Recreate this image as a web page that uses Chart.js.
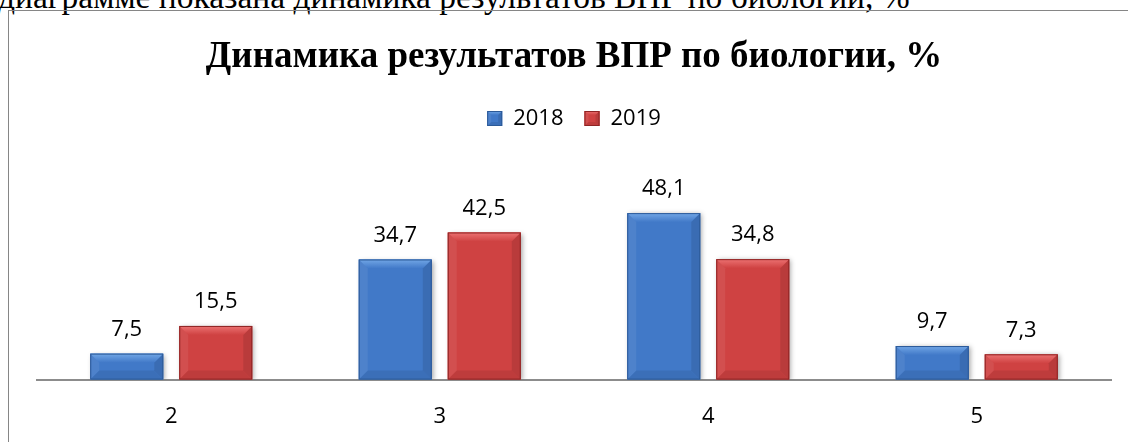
<!DOCTYPE html>
<html lang="ru">
<head>
<meta charset="utf-8">
<title>Динамика результатов ВПР по биологии</title>
<script src="https://cdn.jsdelivr.net/npm/chart.js@4"></script>
<style>
  html, body {
    margin: 0;
    padding: 0;
    background: #fff;
    overflow: hidden;
    width: 1128px;
    height: 442px;
  }
  .caption {
    position: absolute;
    left: -2px;
    top: -20px;
    font-family: "Liberation Serif", "Times New Roman", serif;
    font-size: 33.5px;
    line-height: 33px;
    white-space: nowrap;
    color: #000;
  }
  .frame {
    position: absolute;
    left: 8px;
    top: 10px;
    width: 1140px;
    height: 450px;
    border: 1px solid #868686;
  }
  #chart {
    position: absolute;
    left: 9px;
    top: 11px;
  }
</style>
</head>
<body>
<div class="caption">диаграмме показана динамика результатов ВПР по биологии, %</div>
<div class="frame"></div>
<canvas id="chart" width="1119" height="455"></canvas>

<script>
// Данные диаграммы
const categories = ["2", "3", "4", "5"];
const seriesNames = ["2018", "2019"];
const values2018 = [7.5, 34.7, 48.1, 9.7];
const values2019 = [15.5, 42.5, 34.8, 7.3];
const yMax = 69.4;

// Цвета: основа, светлая фаска, тёмная кромка
const palette = {
  blue: { body: "#4179c8", light: "#72a7e6", dark: "#2c5a98" },
  red: { body: "#cf4242", light: "#ec7272", dark: "#8e2424" },
};

function formatValue(v) {
  return String(v).replace(".", ",");
}

/**
 * Рисует прямоугольник с фаской
 */
function drawBevelRect(ctx, left, top, width, height, col, b) {
  const right = left + width;
  const bottom = top + height;

  ctx.save();
  ctx.fillStyle = col.body;
  ctx.fillRect(left, top, width, height);

  // верхняя фаска
  const g = ctx.createLinearGradient(0, top, 0, top + b);
  g.addColorStop(0, col.light);
  g.addColorStop(1, col.body);
  ctx.fillStyle = g;
  ctx.beginPath();
  ctx.moveTo(left, top);
  ctx.lineTo(right, top);
  ctx.lineTo(right - b, top + b);
  ctx.lineTo(left + b, top + b);
  ctx.closePath();
  ctx.fill();

  // левая фаска
  ctx.fillStyle = "rgba(255, 255, 255, 0.07)";
  ctx.beginPath();
  ctx.moveTo(left, top);
  ctx.lineTo(left + b, top + b);
  ctx.lineTo(left + b, bottom - b);
  ctx.lineTo(left, bottom);
  ctx.closePath();
  ctx.fill();

  // правая фаска
  ctx.fillStyle = "rgba(0, 0, 0, 0.1)";
  ctx.beginPath();
  ctx.moveTo(right, top);
  ctx.lineTo(right - b, top + b);
  ctx.lineTo(right - b, bottom - b);
  ctx.lineTo(right, bottom);
  ctx.closePath();
  ctx.fill();

  // нижняя фаска
  ctx.fillStyle = "rgba(0, 0, 0, 0.08)";
  ctx.beginPath();
  ctx.moveTo(left, bottom);
  ctx.lineTo(left + b, bottom - b);
  ctx.lineTo(right - b, bottom - b);
  ctx.lineTo(right, bottom);
  ctx.closePath();
  ctx.fill();

  // кромка
  ctx.strokeStyle = col.dark;
  ctx.lineWidth = 1;
  ctx.strokeRect(left + 0.5, top + 0.5, width - 1, height - 1);
  ctx.restore();
}

/**
 * Тень под столбцами
 */
const shadowPlugin = {
  id: "barShadow",
  beforeDatasetsDraw(chart) {
    const ctx = chart.ctx;
    ctx.save();
    ctx.shadowColor = "rgba(0, 0, 0, 0.35)";
    ctx.shadowBlur = 5;
    ctx.shadowOffsetX = 2;
    ctx.shadowOffsetY = 1;
  },
  afterDatasetsDraw(chart) {
    chart.ctx.restore();
  },
};

/**
 * Фаска на столбцах, подписи значений и значки легенды
 */
const bevelPlugin = {
  id: "bevel",
  afterDatasetsDraw(chart) {
    const ctx = chart.ctx;
    chart.data.datasets.forEach((ds, di) => {
      const meta = chart.getDatasetMeta(di);
      meta.data.forEach((bar, i) => {
        const left = bar.x - bar.width / 2;
        const h = bar.base - bar.y;
        const b = Math.min(9, h / 2, bar.width / 4);
        drawBevelRect(ctx, left, bar.y, bar.width, h, ds.bevel, b);

        // подпись значения
        ctx.save();
        ctx.fillStyle = "#000";
        ctx.font = '22px "Open Sans"';
        ctx.textAlign = "center";
        ctx.textBaseline = "middle";
        ctx.fillText(formatValue(ds.data[i]), bar.x, bar.y - 24);
        ctx.restore();
      });
    });
  },
  afterDraw(chart) {
    const legend = chart.legend;
    if (!legend || !legend.legendHitBoxes) return;
    legend.legendHitBoxes.forEach((box, i) => {
      const col = chart.data.datasets[i].bevel;
      const cy = box.top + box.height / 2;
      drawBevelRect(chart.ctx, box.left, Math.round(cy - 7.5), 15, 15, col, 4);
    });
  },
};

document.addEventListener("DOMContentLoaded", function () {
  const canvas = document.getElementById("chart");

  new Chart(canvas, {
    type: "bar",
    data: {
      labels: categories,
      datasets: [
        {
          label: seriesNames[0],
          data: values2018,
          backgroundColor: palette.blue.body,
          borderWidth: 0,
          bevel: palette.blue,
        },
        {
          label: seriesNames[1],
          data: values2019,
          backgroundColor: palette.red.body,
          borderWidth: 0,
          bevel: palette.red,
        },
      ],
    },
    options: {
      responsive: false,
      animation: false,
      events: [],
      layout: {
        padding: { left: 28, right: 17, top: 0, bottom: 12 },
      },
      categoryPercentage: 0.663,
      barPercentage: 0.82,
      plugins: {
        title: {
          display: true,
          text: "Динамика результатов ВПР по биологии, %",
          color: "#000",
          font: {
            family: '"Liberation Serif", "Times New Roman", serif',
            size: 37,
            weight: "bold",
            lineHeight: 1.2,
          },
          padding: { top: 24, bottom: 7 },
        },
        legend: {
          display: true,
          position: "top",
          labels: {
            color: "#000",
            boxWidth: 15,
            boxHeight: 15,
            padding: 21,
            font: {
              family: '"Open Sans"',
              size: 22,
              lineHeight: 1.2,
            },
          },
        },
        tooltip: { enabled: false },
      },
      scales: {
        x: {
          grid: { display: false, drawTicks: false },
          border: { display: true, color: "#8c8c8c", width: 2 },
          ticks: {
            color: "#000",
            padding: 24,
            font: {
              family: '"Open Sans"',
              size: 22,
              lineHeight: 1.2,
            },
          },
        },
        y: {
          display: false,
          min: 0,
          max: yMax,
        },
      },
    },
    plugins: [shadowPlugin, bevelPlugin],
  });
});
</script>
</body>
</html>
